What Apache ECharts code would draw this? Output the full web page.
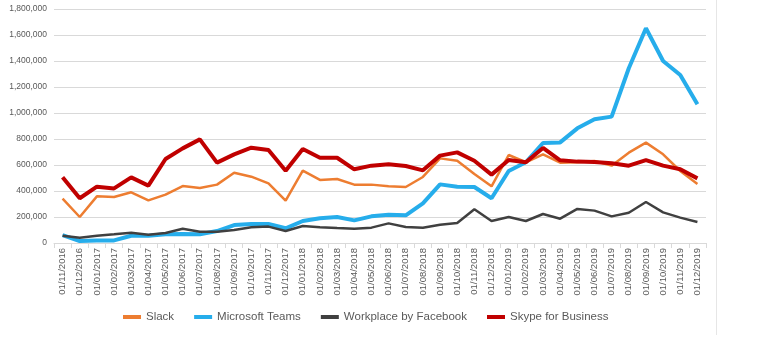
<!DOCTYPE html>
<html>
<head>
<meta charset="utf-8">
<script src="https://cdn.jsdelivr.net/npm/echarts@6/dist/echarts.min.js"></script>
<style>
html,body{margin:0;padding:0;background:#fff;}
#chart{width:775px;height:355px;}
</style>
</head>
<body>
<div id="chart"></div>
<script>
var categories = ['01/11/2016','01/12/2016','01/01/2017','01/02/2017','01/03/2017','01/04/2017','01/05/2017','01/06/2017','01/07/2017','01/08/2017','01/09/2017','01/10/2017','01/11/2017','01/12/2017','01/01/2018','01/02/2018','01/03/2018','01/04/2018','01/05/2018','01/06/2018','01/07/2018','01/08/2018','01/09/2018','01/10/2018','01/11/2018','01/12/2018','01/01/2019','01/02/2019','01/03/2019','01/04/2019','01/05/2019','01/06/2019','01/07/2019','01/08/2019','01/09/2019','01/10/2019','01/11/2019','01/12/2019'];

var slack = [341000,200000,359000,354000,390000,328000,372000,438000,423000,449000,541000,510000,459000,326000,556000,485000,492000,449000,449000,436000,431000,508000,651000,633000,531000,436000,677000,621000,682000,618000,621000,631000,595000,695000,772000,682000,554000,454000];

var teams = [61000,15000,20000,20000,56000,56000,67000,69000,67000,92000,138000,146000,146000,113000,169000,190000,200000,174000,205000,218000,213000,305000,451000,433000,431000,344000,554000,621000,769000,774000,882000,952000,972000,1344000,1652000,1400000,1292000,1067000];

var workplace = [56000,41000,56000,67000,79000,64000,77000,110000,87000,87000,100000,121000,126000,92000,131000,121000,115000,110000,118000,151000,123000,118000,141000,154000,259000,169000,200000,169000,223000,187000,262000,249000,205000,233000,315000,236000,195000,162000];

var skype = [505000,344000,433000,420000,505000,441000,646000,728000,797000,618000,682000,733000,715000,556000,723000,656000,656000,567000,595000,605000,592000,559000,672000,697000,633000,526000,638000,621000,731000,636000,626000,623000,613000,595000,638000,595000,567000,497000];

var yTicks = [0,200000,400000,600000,800000,1000000,1200000,1400000,1600000,1800000];

var labelColor = '#595959';
var font = 'Liberation Sans';

function fmt(v){ return String(v).replace(/\B(?=(\d{3})+(?!\d))/g, ','); }

var chart = echarts.init(document.getElementById('chart'), null, {renderer:'canvas'});
chart.setOption({
  backgroundColor:'#ffffff',
  animation:false,
  grid:{left:54, right:69, top:9, bottom:112, containLabel:false},
  legend:{
    top:306, left:118,
    itemWidth:18, itemHeight:4, itemGap:20,
    icon:'rect',
    textStyle:{color:labelColor, fontFamily:font, fontSize:11.5},
    data:['Slack','Microsoft Teams','Workplace by Facebook','Skype for Business']
  },
  xAxis:{
    type:'category', data:categories, boundaryGap:true,
    axisLine:{lineStyle:{color:'#d9d9d9'}},
    axisTick:{show:true, length:5, lineStyle:{color:'#d9d9d9'}},
    axisLabel:{rotate:90, interval:0, color:labelColor, fontFamily:font, fontSize:9.5, margin:5}
  },
  yAxis:{
    type:'value', min:yTicks[0], max:yTicks[yTicks.length-1], interval:yTicks[1]-yTicks[0],
    axisLine:{show:false}, axisTick:{show:false},
    splitLine:{lineStyle:{color:'#d9d9d9', width:1}},
    axisLabel:{color:labelColor, fontFamily:font, fontSize:8.5, margin:7, formatter:fmt}
  },
  graphic:[{type:'line', shape:{x1:716.5,y1:0,x2:716.5,y2:335}, style:{stroke:'#e6e6e6', lineWidth:1}}],
  series:[
    {name:'Slack', type:'line', data:slack, symbol:'none', z:2, lineStyle:{color:'#ED7D31', width:2.5}, itemStyle:{color:'#ED7D31'}},
    {name:'Microsoft Teams', type:'line', data:teams, symbol:'none', z:3, lineStyle:{color:'#26ADEB', width:4}, itemStyle:{color:'#26ADEB'}},
    {name:'Workplace by Facebook', type:'line', data:workplace, symbol:'none', z:4, lineStyle:{color:'#404040', width:2.5}, itemStyle:{color:'#404040'}},
    {name:'Skype for Business', type:'line', data:skype, symbol:'none', z:5, lineStyle:{color:'#C00000', width:4}, itemStyle:{color:'#C00000'}}
  ]
});
</script>
</body>
</html>
